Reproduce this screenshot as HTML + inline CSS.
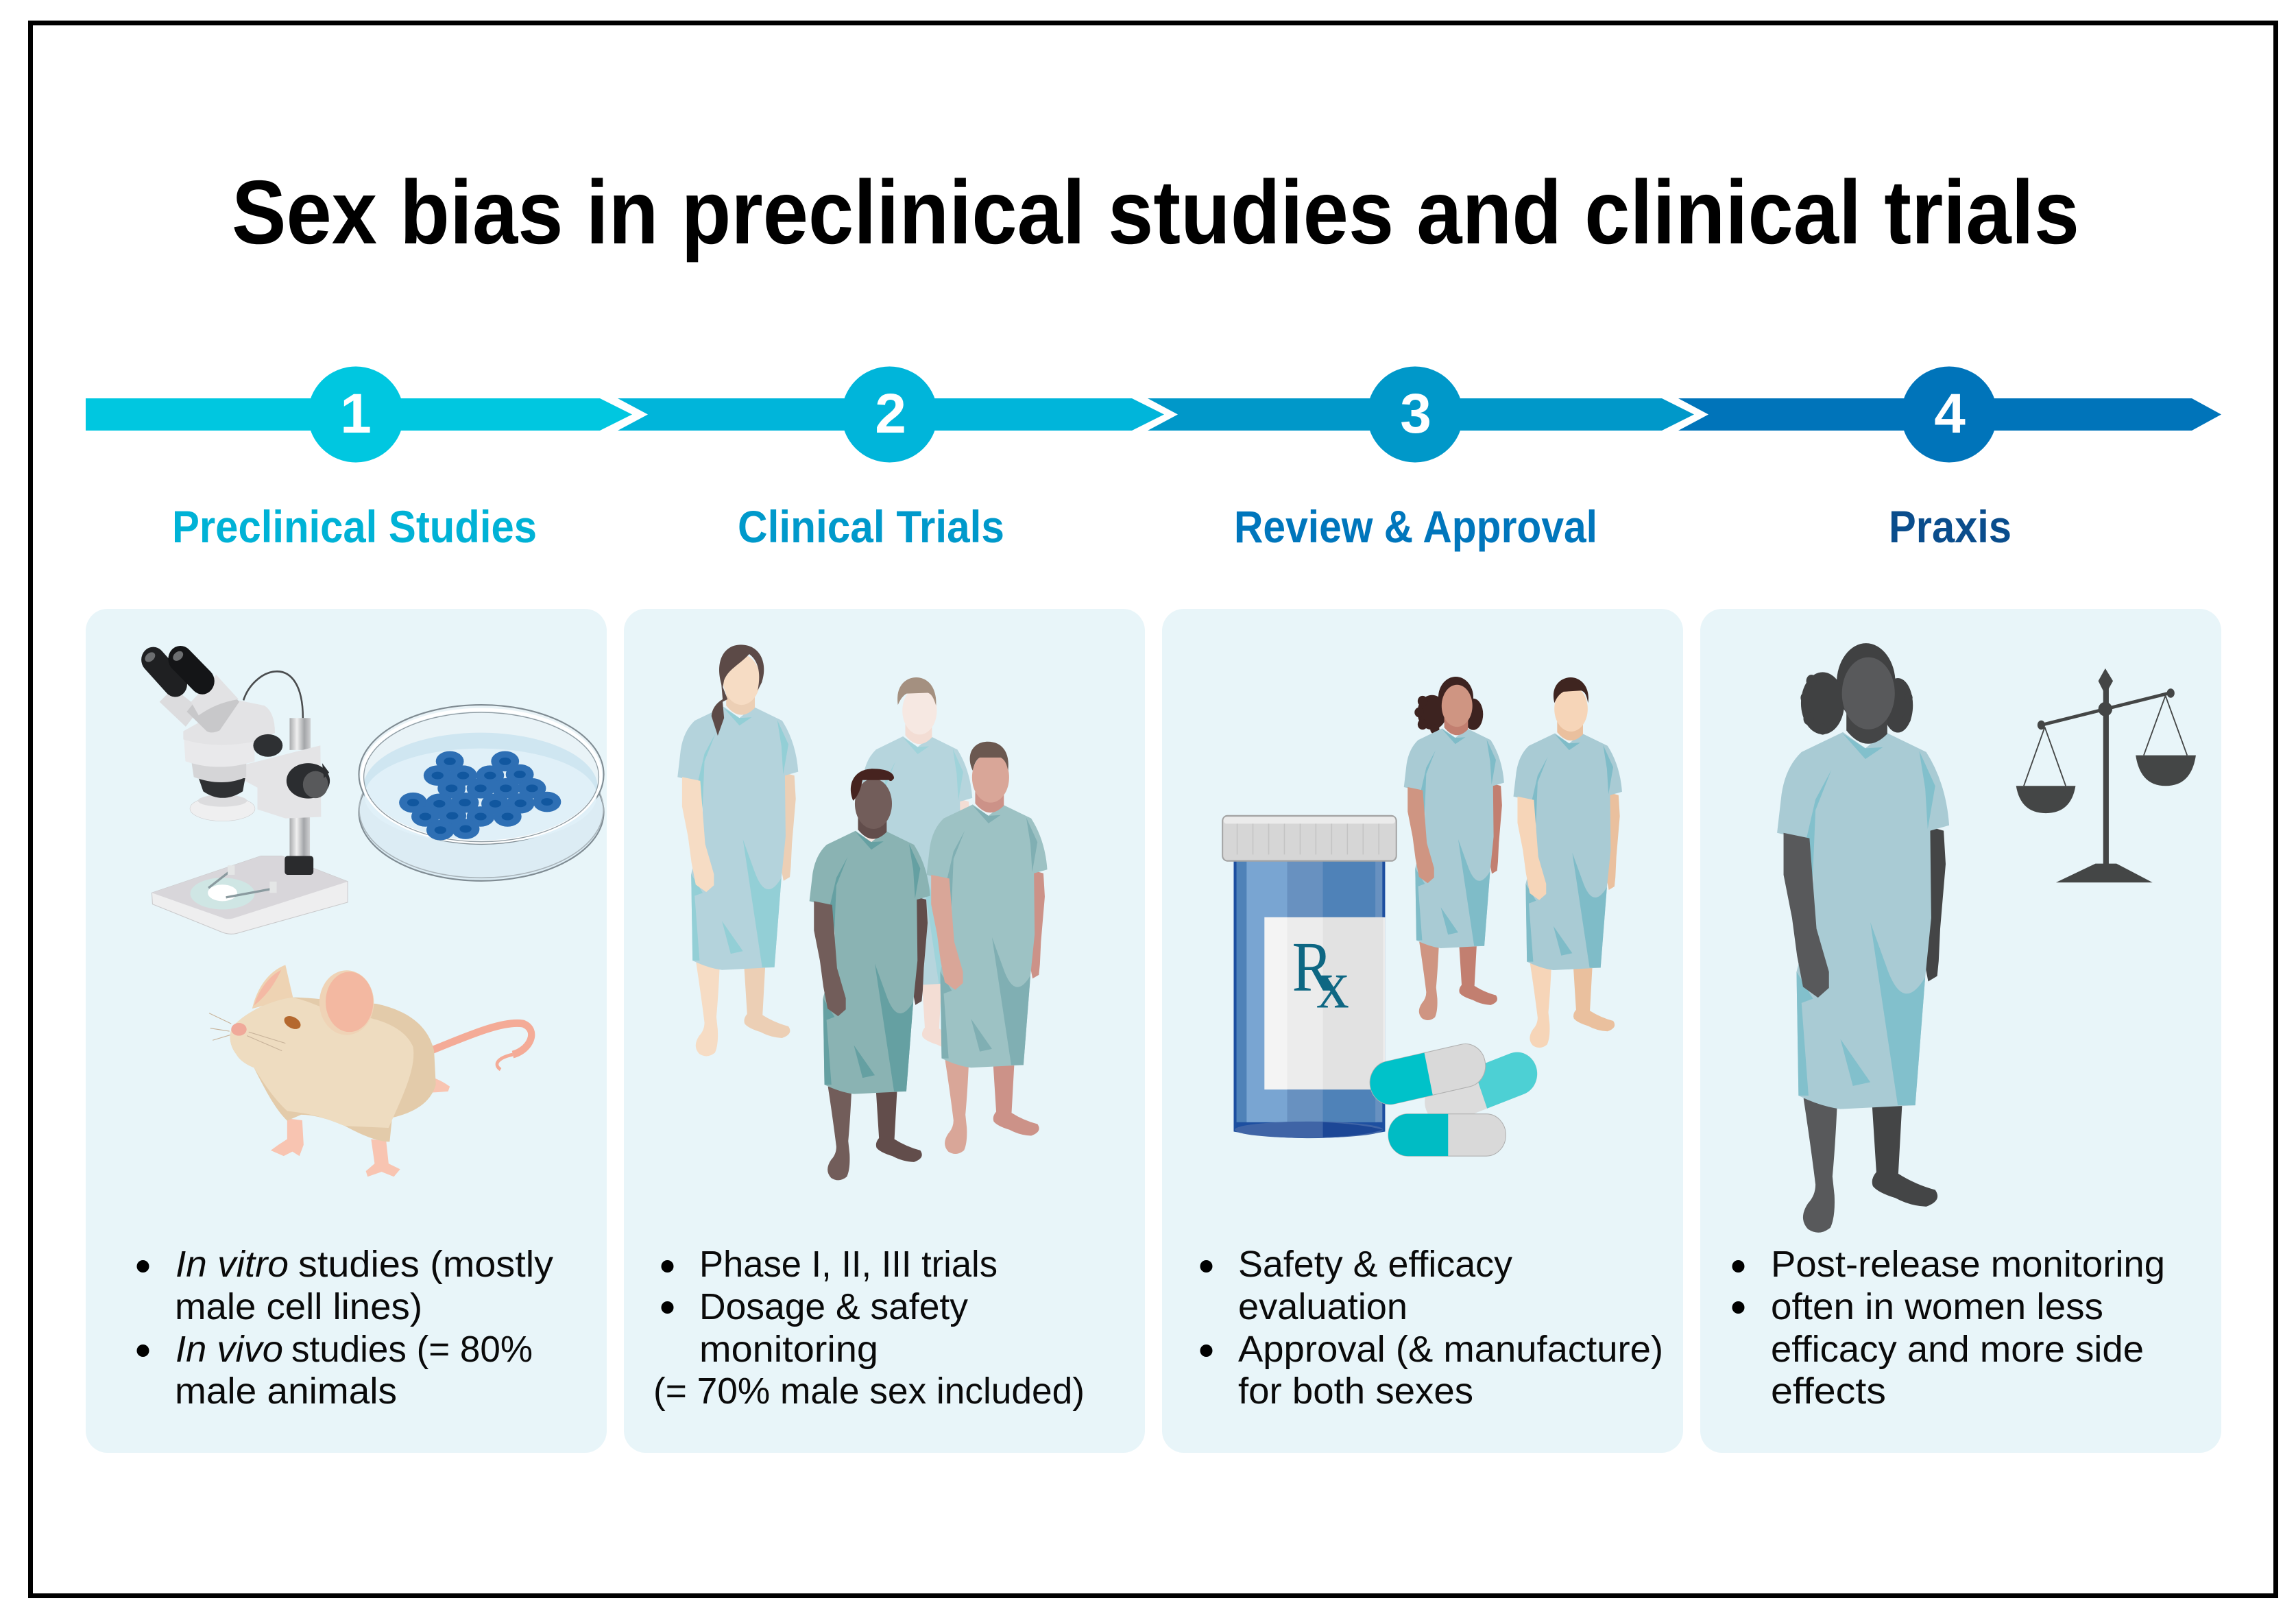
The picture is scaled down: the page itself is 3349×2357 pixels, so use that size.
<!DOCTYPE html>
<html lang="en">
<head>
<meta charset="utf-8">
<title>Sex bias in preclinical studies and clinical trials</title>
<style>
html,body{margin:0;padding:0;background:#fff;width:3349px;height:2357px;overflow:hidden}
svg{display:block}
text{font-family:"Liberation Sans",sans-serif}
.b{font-size:54px;fill:#0a0a0a}
.i{font-size:54px;fill:#0a0a0a;font-style:italic}
.l{font-size:66px;font-weight:700}
.n{font-size:82px;font-weight:700;fill:#fff}
.s{fill:var(--s)}.t{fill:var(--t)}.g{fill:var(--g)}.h{fill:var(--h)}
</style>
</head>
<body>
<svg xmlns="http://www.w3.org/2000/svg" width="3349" height="2357" viewBox="0 0 3349 2357">
<defs>
<linearGradient id="steel" x1="0" x2="1" y1="0" y2="0"><stop offset="0" stop-color="#a9abad"/><stop offset=".35" stop-color="#f0f0f0"/><stop offset=".7" stop-color="#a3a5a8"/><stop offset="1" stop-color="#d0d1d3"/></linearGradient>
<g id="p">
<path class="s" d="M226,955L294,955Q290,1040 284,1100L288,1135Q290,1175 280,1195Q258,1212 235,1198Q215,1178 235,1150Q250,1135 250,1115Q240,1040 226,955Z"/>
<path class="t" d="M363,960L424,960L416,1095Q450,1115 490,1125Q505,1145 472,1156Q440,1155 410,1140Q375,1130 365,1118Q360,1105 372,1092Z"/>
<path class="t" d="M476,450L507,458L511,520L500,640L497,700L494,728L476,738L468,700Z"/>
<path class="g" d="M305,275L222,312Q190,340 182,390L173,462L245,478L245,600L212,720L216,950Q260,970 300,975L450,968L470,730L482,620L480,458L518,448Q512,370 472,312L390,275L350,305Z"/>
<path class="h" d="M360,628L392,710Q425,800 470,730L450,968L415,968Z"/>
<path class="h" d="M212,720L245,770L222,778L236,950L216,950Z"/>
<path class="h" d="M300,845L360,925L325,932Z"/>
<path class="h" d="M282,345L250,420L242,600L232,472L250,400Z"/>
<path class="h" d="M458,310L490,375L475,455L470,380Z"/>
<path class="h" d="M305,278L350,325L385,303L350,305Z"/>
<path class="s" d="M186,462L238,472L252,640L277,720L277,750L255,768L225,748L213,690L203,620L186,540Z"/>
<path class="t" d="M312,240L312,272Q352,318 394,278L394,240Z"/>
<ellipse class="s" cx="356" cy="203" rx="53" ry="67"/>
</g>
</defs>

<rect x="0" y="0" width="3349" height="2357" fill="#fff"/>
<rect x="44.500" y="33.500" width="3275" height="2294" fill="#fff" stroke="#000" stroke-width="7"/>

<text x="338" y="355" font-size="132" font-weight="700" fill="#000" textLength="2695" lengthAdjust="spacingAndGlyphs">Sex bias in preclinical studies and clinical trials</text>

<!-- arrows -->
<path fill="#00c7e0" d="M125,581H875L922,604.500L875,628H125Z"/>
<path fill="#00b5da" d="M901,581H1651L1698,604.500L1651,628H901L945,604.500Z"/>
<path fill="#0098c9" d="M1674,581H2424L2471,604.500L2424,628H1674L1718,604.500Z"/>
<path fill="#0074ba" d="M2448,581H3197L3240,604.500L3197,628H2448L2492,604.500Z"/>
<circle cx="519" cy="604.500" r="70" fill="#00c7e0"/>
<circle cx="1297.500" cy="604.500" r="70" fill="#00b5da"/>
<circle cx="2064" cy="604.500" r="70" fill="#0098c9"/>
<circle cx="2843" cy="604.500" r="70" fill="#0074ba"/>
<text class="n" x="519" y="631" text-anchor="middle">1</text>
<text class="n" x="1299" y="631" text-anchor="middle">2</text>
<text class="n" x="2065" y="631" text-anchor="middle">3</text>
<text class="n" x="2844" y="631" text-anchor="middle">4</text>

<text class="l" x="251" y="791" fill="#00b2d6" textLength="532" lengthAdjust="spacingAndGlyphs">Preclinical Studies</text>
<text class="l" x="1076" y="791" fill="#0099cb" textLength="389" lengthAdjust="spacingAndGlyphs">Clinical Trials</text>
<text class="l" x="1800" y="791" fill="#0076bc" textLength="530" lengthAdjust="spacingAndGlyphs">Review &amp; Approval</text>
<text class="l" x="2755" y="791" fill="#0a4d8c" textLength="179" lengthAdjust="spacingAndGlyphs">Praxis</text>

<!-- cards -->
<rect x="125" y="888" width="760" height="1231" rx="32" fill="#e8f5f9"/>
<rect x="910" y="888" width="760" height="1231" rx="32" fill="#e8f5f9"/>
<rect x="1695" y="888" width="760" height="1231" rx="32" fill="#e8f5f9"/>
<rect x="2480" y="888" width="760" height="1231" rx="32" fill="#e8f5f9"/>

<!-- card 1 illustrations -->
<g transform="translate(100,880) scale(.5102,.5484)">
<path d="M500,258C530,170 670,125 670,305" fill="none" stroke="#4a4c4e" stroke-width="5"/>
<!-- base -->
<path fill="#eeeeef" stroke="#c9c9cb" stroke-width="2" d="M238,770L550,672L610,672L798,740L798,795L480,878Q460,882 440,875L240,800Z"/>
<path fill="#d8d6da" d="M238,770L550,672L610,672L798,740L470,838Q455,842 440,836Z"/>
<ellipse cx="440" cy="772" rx="92" ry="42" fill="#cfe6e4"/>
<ellipse cx="440" cy="770" rx="42" ry="22" fill="#fff"/>
<path d="M400,757L458,715M450,782L578,760" stroke="#8a9a9f" stroke-width="6"/>
<rect x="455" y="697" width="20" height="25" fill="#e4e6e6"/><rect x="575" y="740" width="20" height="30" fill="#e4e6e6"/>
<!-- pillar -->
<rect x="632" y="560" width="58" height="120" fill="url(#steel)"/>
<rect x="618" y="672" width="82" height="50" rx="8" fill="#2a2b2d"/>
<rect x="632" y="305" width="60" height="85" fill="url(#steel)"/>
<!-- arm -->
<path fill="#e4e4e6" d="M500,430L720,378L722,568L620,572L540,548L540,490L500,470Z"/>
<ellipse cx="685" cy="472" rx="62" ry="47" fill="#2b2d30"/>
<ellipse cx="706" cy="482" rx="36" ry="36" fill="#58595b"/>
<path d="M725,425L745,450L730,465Z" fill="#2b2d30"/>
<!-- objective -->
<ellipse cx="440" cy="546" rx="93" ry="33" fill="#efeff0" stroke="#c9c9cb"/>
<ellipse cx="440" cy="525" rx="70" ry="16" fill="#dcdcde"/>
<path fill="#2f3133" d="M372,465H505L498,500Q440,535 385,500Z"/>
<path fill="#d5d5d7" d="M352,425H508V462Q440,490 358,462Z"/>
<path fill="#e9e9eb" d="M330,362Q420,385 532,355V420Q430,450 334,420Z"/>
<path fill="#e3e3e5" d="M328,340L486,258L560,272Q590,290 590,345L530,368Q420,388 328,362Z"/>
<ellipse cx="570" cy="378" rx="42" ry="30" fill="#2e3033"/>
<!-- head tubes -->
<path fill="#dcdcde" d="M260,262L300,225L375,280L335,328Z"/>
<path fill="#c8c8ca" d="M338,288L422,190L488,262L432,338Q410,348 395,340Z"/>
<path fill="#e2e2e4" d="M350,262L422,190L486,255Q420,265 372,298Z"/>
<path d="M242,150L305,215" stroke="#1f2022" stroke-width="68" stroke-linecap="round"/>
<path d="M320,148L382,207" stroke="#141517" stroke-width="70" stroke-linecap="round"/>
<ellipse cx="233" cy="143" rx="16" ry="11" fill="#6c6e70" transform="rotate(-35 233 143)"/>
<ellipse cx="313" cy="140" rx="16" ry="11" fill="#6c6e70" transform="rotate(-35 313 140)"/>
<!-- petri -->
<ellipse cx="1180" cy="555" rx="350" ry="183" fill="#dcecf4" stroke="#7f8b92" stroke-width="4"/>
<ellipse cx="1180" cy="548" rx="349" ry="182" fill="none" stroke="#aab5bb" stroke-width="3"/>
<ellipse cx="1180" cy="455" rx="350" ry="185" fill="#e9f3f7" stroke="#7f8b92" stroke-width="4"/>
<ellipse cx="1178" cy="490" rx="335" ry="146" fill="#cfe6f1"/>
<ellipse cx="1178" cy="512" rx="332" ry="126" fill="#e0f0f8"/>
<ellipse cx="1180" cy="459" rx="341" ry="176" fill="none" stroke="#fff" stroke-width="9"/>
<ellipse cx="1180" cy="462" rx="336" ry="172" fill="none" stroke="#8f9ba2" stroke-width="2.500"/>
<g fill="#2e6fb4">
<ellipse cx="1090" cy="420" rx="40" ry="27"/><ellipse cx="1248" cy="420" rx="40" ry="27"/><ellipse cx="1055" cy="458" rx="40" ry="27"/><ellipse cx="1128" cy="458" rx="40" ry="27"/><ellipse cx="1205" cy="458" rx="40" ry="27"/><ellipse cx="1290" cy="455" rx="40" ry="27"/><ellipse cx="1095" cy="492" rx="40" ry="27"/><ellipse cx="1178" cy="492" rx="40" ry="27"/><ellipse cx="1250" cy="492" rx="40" ry="27"/><ellipse cx="1325" cy="492" rx="40" ry="27"/><ellipse cx="985" cy="530" rx="40" ry="27"/><ellipse cx="1060" cy="533" rx="40" ry="27"/><ellipse cx="1133" cy="530" rx="40" ry="27"/><ellipse cx="1220" cy="533" rx="40" ry="27"/><ellipse cx="1292" cy="532" rx="40" ry="27"/><ellipse cx="1368" cy="528" rx="40" ry="27"/><ellipse cx="1020" cy="567" rx="40" ry="27"/><ellipse cx="1097" cy="565" rx="40" ry="27"/><ellipse cx="1178" cy="567" rx="40" ry="27"/><ellipse cx="1255" cy="567" rx="40" ry="27"/><ellipse cx="1063" cy="603" rx="40" ry="27"/><ellipse cx="1135" cy="600" rx="40" ry="27"/>
</g>
<g fill="#11579f">
<ellipse cx="1090" cy="420" rx="17" ry="10"/><ellipse cx="1248" cy="420" rx="17" ry="10"/><ellipse cx="1055" cy="458" rx="17" ry="10"/><ellipse cx="1128" cy="458" rx="17" ry="10"/><ellipse cx="1205" cy="458" rx="17" ry="10"/><ellipse cx="1290" cy="455" rx="17" ry="10"/><ellipse cx="1095" cy="492" rx="17" ry="10"/><ellipse cx="1178" cy="492" rx="17" ry="10"/><ellipse cx="1250" cy="492" rx="17" ry="10"/><ellipse cx="1325" cy="492" rx="17" ry="10"/><ellipse cx="985" cy="530" rx="17" ry="10"/><ellipse cx="1060" cy="533" rx="17" ry="10"/><ellipse cx="1133" cy="530" rx="17" ry="10"/><ellipse cx="1220" cy="533" rx="17" ry="10"/><ellipse cx="1292" cy="532" rx="17" ry="10"/><ellipse cx="1368" cy="528" rx="17" ry="10"/><ellipse cx="1020" cy="567" rx="17" ry="10"/><ellipse cx="1097" cy="565" rx="17" ry="10"/><ellipse cx="1178" cy="567" rx="17" ry="10"/><ellipse cx="1255" cy="567" rx="17" ry="10"/><ellipse cx="1063" cy="603" rx="17" ry="10"/><ellipse cx="1135" cy="600" rx="17" ry="10"/>
</g>
<!-- mouse -->
<path d="M1040,1188C1130,1155 1240,1108 1300,1118C1345,1135 1320,1188 1270,1200" fill="none" stroke="#f4ab97" stroke-width="20"/>
<path d="M1270,1200C1230,1208 1212,1225 1235,1240" fill="none" stroke="#f4ab97" stroke-width="9"/>
<path fill="#f8c4b1" d="M1030,1258Q1060,1265 1090,1285L1085,1298Q1055,1300 1030,1302Z"/>
<path fill="#f8c4b1" d="M625,1370L668,1375L672,1440L660,1470L640,1458L615,1470L578,1455L600,1440L625,1425Z"/>
<path fill="#f8c4b1" d="M865,1425L908,1430L915,1490L948,1505L930,1525L895,1512L855,1525L850,1510L875,1490Z"/>
<path fill="#eed3b3" d="M525,1078C540,1015 580,975 620,962L642,1050Z"/>
<path fill="#f4b9a4" d="M530,1070C545,1025 575,990 608,975C590,1010 570,1040 530,1070Z"/>
<path fill="#e3cbaa" d="M640,1048C700,1048 780,1060 880,1065C980,1085 1030,1130 1045,1190L1050,1280C1035,1330 985,1355 925,1368L918,1432C880,1432 830,1410 790,1390C740,1370 700,1360 665,1360L625,1376C590,1345 560,1290 530,1235C505,1225 490,1215 480,1200C455,1170 460,1140 470,1125C510,1085 580,1055 640,1048Z"/>
<path fill="#eedcc0" d="M640,1048C700,1060 740,1085 790,1095C860,1095 960,1120 985,1180C995,1240 950,1320 915,1395L790,1390C740,1370 700,1360 665,1355L625,1350C590,1320 560,1280 530,1235C505,1225 490,1215 480,1200C455,1170 460,1140 470,1125C510,1085 580,1055 640,1048Z"/>
<ellipse cx="795" cy="1062" rx="78" ry="86" fill="#efd3b6"/>
<ellipse cx="803" cy="1060" rx="68" ry="80" fill="#f3b8a1"/>
<ellipse cx="640" cy="1115" rx="25" ry="15" fill="#b4682e" transform="rotate(25 640 1115)"/>
<ellipse cx="487" cy="1133" rx="22" ry="17" fill="#f0a99a"/>
<path d="M465,1118L402,1090M460,1138L405,1130M462,1148L412,1162M510,1150L610,1190M515,1140L620,1170" stroke="#c7b299" stroke-width="2" fill="none"/>
</g>

<!-- card 2 people -->
<g transform="translate(900,880) scale(.5102,.5484)">
<use href="#p" style="--s:#f6dcc4;--t:#eccfb5;--g:#b4d3dc;--h:#93cfd6"/>
<path fill="#5c4a47" d="M302,225C277,160 302,110 354,110C410,110 432,160 414,210L402,232C414,180 400,150 378,135C348,165 318,175 306,205Z"/>
<path fill="#5c4a47" d="M298,212L316,255L302,262L306,305L288,352L270,300Q272,272 302,255Z"/>
<g transform="translate(534,93) scale(.93,.948)"><use href="#p" style="--s:#f6e8e2;--t:#f3ddd4;--g:#b6d5dd;--h:#9fd3da"/></g>
<path fill="#a49080" d="M803,270C795,215 830,197 855,197C890,197 915,225 912,272C905,250 898,240 888,238L828,240C818,245 810,255 803,270Z"/>
<g transform="translate(377,330)"><use href="#p" style="--s:#725d5a;--t:#624d4b;--g:#8ab3b3;--h:#65a0a2"/></g>
<path fill="#46231f" d="M675,525C655,480 680,440 730,440C770,440 792,450 792,465C787,472 782,475 777,470L702,470C697,490 692,510 675,525Z"/>
<g transform="translate(712,260)"><use href="#p" style="--s:#d9a698;--t:#cc9288;--g:#9dc2c4;--h:#80afb3"/></g>
<path fill="#6b5850" d="M1017,445C995,400 1020,368 1060,368C1100,368 1124,395 1118,445C1114,425 1107,415 1097,410L1037,410C1027,415 1020,430 1017,445Z"/>
</g>

<!-- card 3 -->
<g transform="translate(1700,880) scale(.5102,.5484)">
<ellipse cx="830" cy="250" rx="50" ry="55" fill="#3d2320"/>
<ellipse cx="762" cy="290" rx="42" ry="46" fill="#3d2320"/>
<ellipse cx="880" cy="295" rx="28" ry="42" fill="#3d2320"/>
<circle cx="735" cy="260" r="14" fill="#3d2320"/><circle cx="725" cy="290" r="13" fill="#3d2320"/><circle cx="735" cy="322" r="14" fill="#3d2320"/><circle cx="770" cy="335" r="13" fill="#3d2320"/>
<g transform="translate(538,103) scale(.83,.835)"><use href="#p" style="--s:#cf9582;--t:#c27f70;--g:#a9cbd4;--h:#7fbcc8"/></g>
<g transform="translate(839,98) scale(.9,.9)"><use href="#p" style="--s:#f6d5b8;--t:#eac09e;--g:#a9cbd4;--h:#7fbcc8"/></g>
<path fill="#3f2520" d="M1112,265C1100,220 1130,197 1158,197C1190,197 1215,225 1208,265C1203,240 1198,235 1188,232L1138,235C1128,240 1118,250 1112,265Z"/>
<!-- bottle -->
<path fill="#1d4fa0" d="M195,680H628V1405Q410,1440 195,1405Z"/>
<rect x="203" y="680" width="402" height="700" fill="#4f82b8"/>
<rect x="232" y="680" width="116" height="700" fill="#79a5d2"/>
<rect x="348" y="680" width="102" height="700" fill="#6891c0"/>
<rect x="450" y="680" width="150" height="700" fill="#4f82b8"/>
<rect x="600" y="680" width="20" height="700" fill="#6891c0"/>
<ellipse cx="410" cy="1400" rx="212" ry="22" fill="#3f64a6"/>
<path fill="#1c4796" d="M450,1380Q560,1385 622,1400Q560,1418 450,1420Z"/>
<rect x="283" y="835" width="345" height="458" fill="#ececec"/>
<rect x="283" y="835" width="65" height="458" fill="#f4f4f4"/>
<rect x="450" y="835" width="172" height="458" fill="#e2e2e2"/>
<rect x="163" y="565" width="497" height="120" rx="14" fill="#d6d6d6" stroke="#a4a4a4" stroke-width="4"/>
<rect x="166" y="568" width="491" height="18" rx="8" fill="#ebebeb"/>
<path d="M205,586V668M250,586V668M295,586V668M340,586V668M385,586V668M430,586V668M475,586V668M520,586V668M565,586V668M610,586V668" stroke="#c4c4c4" stroke-width="3"/>
<text x="362" y="1030" font-size="190" fill="#0e6783" textLength="116" lengthAdjust="spacingAndGlyphs" style="font-family:'Liberation Serif',serif">R</text>
<text x="432" y="1075" font-size="185" fill="#0e6783" textLength="93" lengthAdjust="spacingAndGlyphs" style="font-family:'Liberation Serif',serif">x</text>
<!-- pills -->
<g transform="rotate(-20 900 1290)">
<rect x="735" y="1232" width="335" height="115" rx="57" fill="#dcdcdc"/>
<path d="M900,1232H1012A57,57 0 0 1 1012,1347H900Z" fill="#4dd0d4"/>
</g>
<g transform="rotate(-12 748 1252)">
<rect x="582" y="1195" width="335" height="115" rx="57" fill="#d9d9d9" stroke="#b0b0b0" stroke-width="2"/>
<path d="M640,1195H752V1310H640A57,57 0 0 1 640,1195Z" fill="#00c2c9"/>
</g>
<rect x="637" y="1358" width="336" height="112" rx="56" fill="#d9d9d9" stroke="#b0b0b0" stroke-width="2"/>
<path d="M693,1358H808V1470H693A56,56 0 0 1 693,1358Z" fill="#00bcc4"/>
</g>

<!-- card 4 -->
<g transform="translate(2480,880) scale(.5102,.6122)">
<ellipse cx="474" cy="190" rx="84" ry="95" fill="#404142"/>
<ellipse cx="350" cy="238" rx="62" ry="74" fill="#404142"/>
<ellipse cx="565" cy="243" rx="43" ry="65" fill="#404142"/>
<circle cx="300" cy="225" r="13" fill="#404142"/><circle cx="318" cy="185" r="15" fill="#404142"/><circle cx="310" cy="275" r="15" fill="#404142"/><circle cx="350" cy="300" r="13" fill="#404142"/><circle cx="595" cy="225" r="12" fill="#404142"/><circle cx="590" cy="275" r="12" fill="#404142"/>
<g transform="translate(-27,-46) scale(1.426,1.283)"><use href="#p" style="--s:#58595b;--t:#444546;--g:#a9cbd4;--h:#82c0cc"/></g>
<g fill="#444646" stroke="none">
<rect x="1152" y="190" width="16" height="435"/>
<path d="M1158,155L1180,185L1158,218L1138,185Z"/>
<ellipse cx="1158" cy="252" rx="20" ry="17"/>
<path d="M1017,665L1130,620H1190L1293,665Z"/>
<path d="M903,435H1073Q1060,500 988,500Q916,500 903,435Z"/>
<path d="M1245,362H1417Q1404,435 1331,435Q1258,435 1245,362Z"/>
<circle cx="975" cy="290" r="11"/><circle cx="1345" cy="214" r="11"/>
</g>
<path d="M975,290L1345,213" stroke="#444646" stroke-width="8"/>
<path d="M985,295L925,435M985,295L1045,435M1330,220L1268,362M1330,220L1392,362" stroke="#444646" stroke-width="3.500" fill="none"/>
</g>

<!-- bullets & text -->
<g fill="#000">
<circle cx="208.500" cy="1847" r="9"/><circle cx="208.500" cy="1970" r="9"/>
<circle cx="973.500" cy="1847" r="9"/><circle cx="973.500" cy="1907" r="9"/>
<circle cx="1759.500" cy="1847" r="9"/><circle cx="1759.500" cy="1970" r="9"/>
<circle cx="2535.500" cy="1847" r="9"/><circle cx="2535.500" cy="1907" r="9"/>
</g>
<text class="i" x="256" y="1862" textLength="165" lengthAdjust="spacingAndGlyphs">In vitro</text>
<text class="b" x="435" y="1862" textLength="372" lengthAdjust="spacingAndGlyphs">studies (mostly</text>
<text class="b" x="255" y="1924" textLength="361" lengthAdjust="spacingAndGlyphs">male cell lines)</text>
<text class="i" x="256" y="1986" textLength="157" lengthAdjust="spacingAndGlyphs">In vivo</text>
<text class="b" x="425" y="1986" textLength="352" lengthAdjust="spacingAndGlyphs">studies (= 80%</text>
<text class="b" x="255" y="2047" textLength="324" lengthAdjust="spacingAndGlyphs">male animals</text>

<text class="b" x="1020" y="1862" textLength="435" lengthAdjust="spacingAndGlyphs">Phase I, II, III trials</text>
<text class="b" x="1020" y="1924" textLength="392" lengthAdjust="spacingAndGlyphs">Dosage &amp; safety</text>
<text class="b" x="1020" y="1986" textLength="261" lengthAdjust="spacingAndGlyphs">monitoring</text>
<text class="b" x="953" y="2047" textLength="629" lengthAdjust="spacingAndGlyphs">(= 70% male sex included)</text>

<text class="b" x="1806" y="1862" textLength="400" lengthAdjust="spacingAndGlyphs">Safety &amp; efficacy</text>
<text class="b" x="1806" y="1924" textLength="247" lengthAdjust="spacingAndGlyphs">evaluation</text>
<text class="b" x="1806" y="1986" textLength="620" lengthAdjust="spacingAndGlyphs">Approval (&amp; manufacture)</text>
<text class="b" x="1806" y="2047" textLength="343" lengthAdjust="spacingAndGlyphs">for both sexes</text>

<text class="b" x="2583" y="1862" textLength="575" lengthAdjust="spacingAndGlyphs">Post-release monitoring</text>
<text class="b" x="2583" y="1924" textLength="485" lengthAdjust="spacingAndGlyphs">often in women less</text>
<text class="b" x="2583" y="1986" textLength="544" lengthAdjust="spacingAndGlyphs">efficacy and more side</text>
<text class="b" x="2583" y="2047" textLength="168" lengthAdjust="spacingAndGlyphs">effects</text>
</svg>
</body>
</html>
